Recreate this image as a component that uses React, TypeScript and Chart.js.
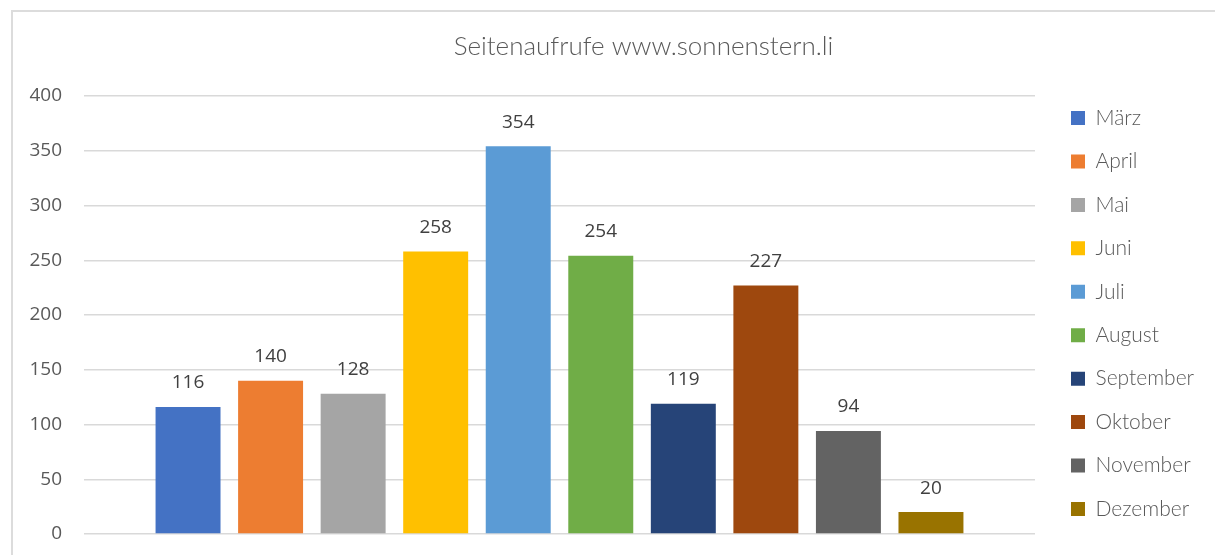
import React, { useEffect, useRef } from "react";
import { Chart, registerables } from "chart.js";

Chart.register(...registerables);

const CATEGORIES = [""];
const MONTHS = ["März", "April", "Mai", "Juni", "Juli", "August", "September", "Oktober", "November", "Dezember"];
const VALUES = [116, 140, 128, 258, 354, 254, 119, 227, 94, 20];
const COLORS = ["#4472C4", "#ED7D31", "#A5A5A5", "#FFC000", "#5B9BD5", "#70AD47", "#264478", "#9E480E", "#636363", "#997300"];
const Y_MIN = 0;
const Y_MAX = 400;
const Y_STEP = 50;
const TITLE = "Seitenaufrufe www.sonnenstern.li";

const CANVAS_W = 1290;
const CANVAS_H = 640;

const dataLabelPlugin = {
  id: "dataLabels",
  afterDatasetsDraw(chart: any) {
    const ctx = chart.ctx;
    ctx.save();
    ctx.font = "19px 'Open Sans', sans-serif";
    ctx.fillStyle = "#404040";
    ctx.textAlign = "center";
    ctx.textBaseline = "middle";
    chart.data.datasets.forEach((ds: any, i: number) => {
      const meta = chart.getDatasetMeta(i);
      meta.data.forEach((el: any, j: number) => {
        ctx.fillText(String(ds.data[j]), el.x, el.y - 24);
      });
    });
    ctx.restore();
  },
};

export default function App() {
  const ref = useRef<HTMLCanvasElement>(null);

  useEffect(() => {
    if (!ref.current) return;
    const chart = new Chart(ref.current, {
      type: "bar",
      data: {
        labels: CATEGORIES,
        datasets: MONTHS.map((m, i) => ({
          label: m,
          data: [VALUES[i]],
          backgroundColor: COLORS[i],
          borderWidth: 0,
          categoryPercentage: 0.868,
          barPercentage: 0.787,
        })),
      },
      options: {
        animation: false,
        responsive: false,
        devicePixelRatio: 1,
        layout: { padding: { left: 12, right: 15, top: 0, bottom: 13 } },
        plugins: {
          tooltip: { enabled: false },
          title: {
            display: true,
            text: TITLE,
            color: "#595959",
            font: { family: "Lato, 'Open Sans', sans-serif", size: 26, weight: "300" as any },
            padding: { top: 31.4, bottom: 33.4 },
          },
          legend: {
            display: true,
            position: "right",
            fullSize: true,
            align: "center",
            labels: {
              boxWidth: 14,
              boxHeight: 14,
              padding: 22.44,
              color: "#595959",
              font: { family: "Lato, 'Open Sans', sans-serif", size: 21, weight: "300" as any },
            },
          },
        },
        scales: {
          x: {
            display: true,
            ticks: { display: false },
            grid: { display: false },
            border: { display: false },
            afterFit: (s: any) => {
              s.height = 93;
            },
          },
          y: {
            min: Y_MIN,
            max: Y_MAX,
            ticks: {
              stepSize: Y_STEP,
              padding: 22,
              color: "#595959",
              font: { family: "'Open Sans', sans-serif", size: 19 },
            },
            grid: { color: "#d9d9d9", lineWidth: 1.5, drawTicks: false },
            border: { display: false },
            afterFit: (s: any) => {
              s.width = 72;
            },
          },
          spacerA: {
            type: "linear",
            position: "right",
            weight: 0,
            display: true,
            ticks: { display: false },
            grid: { display: false },
            border: { display: false },
            afterFit: (s: any) => {
              s.width = 13.56;
            },
          },
          spacerB: {
            type: "linear",
            position: "right",
            weight: 2000,
            display: true,
            ticks: { display: false },
            grid: { display: false },
            border: { display: false },
            afterFit: (s: any) => {
              const lw = s.chart && s.chart.legend ? s.chart.legend.width : 0;
              s.width = Math.max(0, 1275 - 1048.56 - lw);
            },
          },
        } as any,
      },
      plugins: [dataLabelPlugin],
    });
    return () => chart.destroy();
  }, []);

  return (
    <div
      style={{
        position: "absolute",
        left: 0,
        top: 0,
        width: 1215,
        height: 555,
        overflow: "hidden",
        background: "#ffffff",
      }}
    >
      <canvas
        ref={ref}
        width={CANVAS_W}
        height={CANVAS_H}
        style={{ position: "absolute", left: 0, top: 0, width: CANVAS_W, height: CANVAS_H }}
      />
      <div
        style={{
          position: "absolute",
          left: 11,
          top: 10,
          width: 1400,
          height: 800,
          border: "2px solid #dcdcdc",
          pointerEvents: "none",
        }}
      />
    </div>
  );
}
